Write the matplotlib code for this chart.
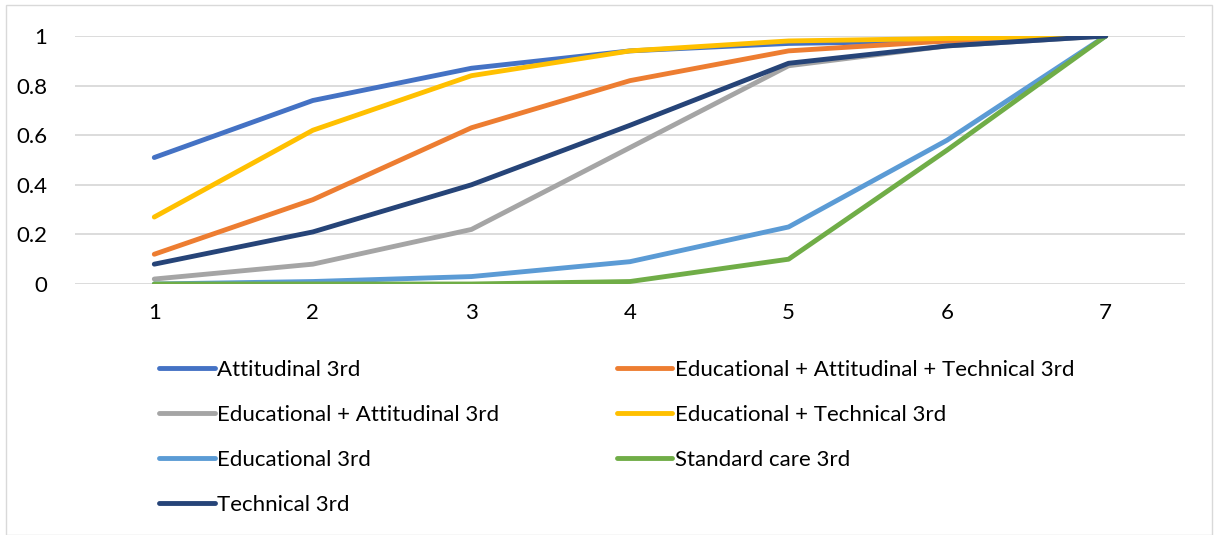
import matplotlib.pyplot as plt
from matplotlib.patches import Rectangle

# DATA
categorias = [1, 2, 3, 4, 5, 6, 7]
attitudinal = [0.51, 0.74, 0.87, 0.94, 0.97, 0.98, 1.0]
edu_att_tech = [0.12, 0.34, 0.63, 0.82, 0.94, 0.98, 1.0]
edu_att = [0.02, 0.08, 0.22, 0.55, 0.88, 0.96, 1.0]
edu_tech = [0.27, 0.62, 0.84, 0.94, 0.98, 0.99, 1.0]
educational = [0.0, 0.01, 0.03, 0.09, 0.23, 0.58, 1.0]
standard = [0.0, 0.0, 0.0, 0.01, 0.10, 0.54, 1.0]
technical = [0.08, 0.21, 0.40, 0.64, 0.89, 0.96, 1.0]

series = [
    ('Attitudinal 3rd', attitudinal, '#4472C4'),
    ('Educational + Attitudinal + Technical 3rd', edu_att_tech, '#ED7D31'),
    ('Educational + Attitudinal 3rd', edu_att, '#A5A5A5'),
    ('Educational + Technical 3rd', edu_tech, '#FFC000'),
    ('Educational 3rd', educational, '#5B9BD5'),
    ('Standard care 3rd', standard, '#70AD47'),
    ('Technical 3rd', technical, '#264478'),
]

plt.rcParams['font.family'] = ['Lato', 'DejaVu Sans']

fig = plt.figure(figsize=(12.18, 5.35), dpi=100)
ax = fig.add_axes([75 / 1218, 1 - 284 / 535, 1110 / 1218, 248 / 535])

lineas = []
for nombre, valores, color in series:
    l, = ax.plot(categorias, valores, color=color, lw=3.5, label=nombre,
                 solid_capstyle='round', solid_joinstyle='round')
    lineas.append(l)

ax.set_xlim(0.5, 7.5)
ax.set_ylim(0, 1)
ax.set_yticks([0, 0.2, 0.4, 0.6, 0.8, 1])
ax.set_yticklabels(['0', '0.2', '0.4', '0.6', '0.8', '1'])
ax.set_xticks(categorias)
ax.tick_params(length=0, labelsize=16, colors='black')
ax.tick_params(axis='x', pad=14)
ax.tick_params(axis='y', pad=20)
ax.grid(axis='y', color='#D9D9D9', lw=1.3)
ax.set_axisbelow(True)
for s in ax.spines.values():
    s.set_visible(False)

# leyenda en orden por filas (como Excel)
orden = [0, 2, 4, 6, 1, 3, 5]
fig.legend([lineas[i] for i in orden], [series[i][0] for i in orden],
           loc='upper left', bbox_to_anchor=(159 / 1218, 1 - 360 / 535),
           ncol=2, frameon=False, fontsize=16, handlelength=2.5,
           handletextpad=0.13, labelspacing=1.12, columnspacing=5.28,
           borderaxespad=0, borderpad=0)

fig.patches.append(Rectangle((6 / 1218, 0), 1206 / 1218, 1 - 5 / 535,
                             transform=fig.transFigure, fill=False,
                             edgecolor='#D9D9D9', lw=1))

fig.savefig('out.png', dpi=100)
